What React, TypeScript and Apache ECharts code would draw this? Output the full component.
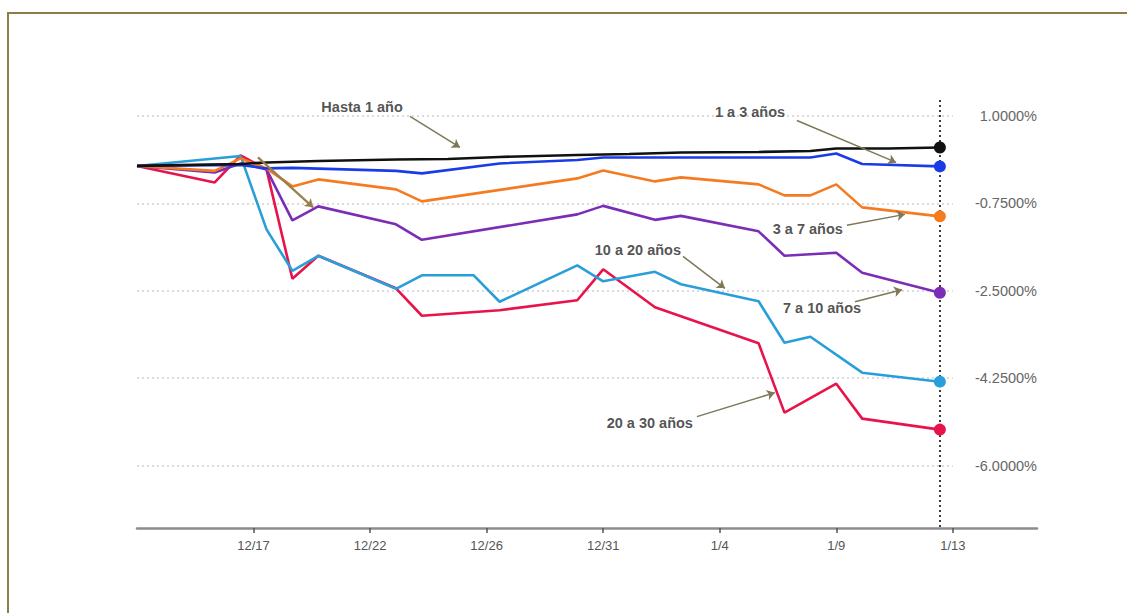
import React, { useEffect, useRef } from "react";
import * as echarts from "echarts";

const dates = [
  "12/13", "12/14", "12/15", "12/16", "12/17", "12/18", "12/19", "12/20", "12/21", "12/22",
  "12/23", "12/24", "12/25", "12/26", "12/27", "12/28", "12/29", "12/30", "12/31",
  "1/1", "1/2", "1/3", "1/4", "1/5", "1/6", "1/7", "1/8", "1/9", "1/10", "1/11", "1/12", "1/13",
];

const N = null;
const hasta1: (number | null)[] = [0, N, N, N, 0.04, 0.07, N, 0.1, N, N, 0.13, N, 0.14, N, 0.18, N, N, 0.22, N, 0.24, N, 0.27, N, N, 0.28, N, 0.3, 0.35, N, 0.35, N, 0.37];
const de1a3: (number | null)[] = [0, N, N, N, 0.02, -0.05, -0.04, N, N, N, -0.1, -0.15, N, N, 0.05, N, N, 0.12, 0.17, N, N, 0.17, N, N, N, N, 0.17, 0.25, 0.04, N, N, -0.01];
const de3a7: (number | null)[] = [0, N, N, -0.1, 0.15, -0.05, -0.41, -0.27, N, N, -0.47, -0.71, N, N, N, N, N, -0.25, -0.09, N, -0.31, -0.23, N, N, -0.37, -0.59, -0.59, -0.37, -0.83, N, N, -1.01];
const de7a10: (number | null)[] = [0, N, N, -0.13, 0.05, -0.07, -1.09, -0.81, N, N, -1.17, -1.48, N, N, N, N, N, -0.97, -0.8, N, -1.08, -1.0, N, N, -1.31, -1.8, N, -1.74, -2.14, N, N, -2.54];
const de10a20: (number | null)[] = [0, N, N, N, 0.2, -1.27, -2.1, -1.8, N, N, -2.46, -2.19, N, -2.19, -2.72, N, N, -1.99, -2.31, N, -2.12, -2.37, N, N, -2.71, -3.54, -3.42, N, -4.14, N, N, -4.32];
const de20a30: (number | null)[] = [0, N, N, -0.33, 0.21, -0.07, -2.26, -1.8, N, N, -2.45, -3.0, N, N, -2.89, N, N, -2.69, -2.07, N, -2.83, N, N, N, -3.55, -4.94, N, -4.36, -5.06, N, N, -5.28];

const seriesNames = ["20 a 30 años", "10 a 20 años", "7 a 10 años", "3 a 7 años", "1 a 3 años", "Hasta 1 año"];
const seriesValues = [de20a30, de10a20, de7a10, de3a7, de1a3, hasta1];
const seriesColors = ["#e8134a", "#2a9ed8", "#7b2db6", "#f47b20", "#1a3ce6", "#111111"];

const yTicks = [1, -0.75, -2.5, -4.25, -6];
const xTickDays = [4.5, 9, 13.5, 18, 22.5, 27, 31.5];

const annotationTexts = ["Hasta 1 año", "1 a 3 años", "3 a 7 años", "7 a 10 años", "10 a 20 años", "20 a 30 años"];
const annotationAt = [[8.69, 1.17], [23.67, 1.07], [25.9, -1.27], [26.45, -2.84], [19.34, -1.69], [19.8, -5.14]];
const arrowFrom = [[10.54, 0.99], [25.48, 0.91], [27.41, -1.19], [27.72, -2.72], [21.08, -1.81], [21.62, -5.02], [4.67, 0.17]];
const arrowTo = [[12.47, 0.37], [29.31, 0.07], [29.65, -0.97], [29.54, -2.48], [22.7, -2.45], [24.63, -4.54], [6.8, -0.83]];

export default function App() {
  const ref = useRef<HTMLDivElement>(null);
  useEffect(() => {
    document.body.style.margin = "0";
    const chart = echarts.init(ref.current!, null, { renderer: "svg" });
    const lastIdx = dates.length - 1;

    const lineSeries = seriesNames.map((name, k) => ({
      name,
      type: "line",
      z: 3,
      data: seriesValues[k].map((v, i) => [i, v]).filter((d) => d[1] !== null),
      connectNulls: true,
      symbol: "circle",
      showSymbol: true,
      symbolSize: (val: number[]) => (val[0] === lastIdx ? 12 : 0),
      lineStyle: { color: seriesColors[k], width: 2.6 },
      itemStyle: { color: seriesColors[k] },
      emphasis: { disabled: true },
    }));

    const option = {
      animation: false,
      backgroundColor: "#ffffff",
      grid: { left: 137, right: 90, top: 100, bottom: 85, containLabel: false },
      xAxis: {
        type: "value",
        min: 0,
        max: 34.75,
        splitLine: { show: false },
        axisLine: { show: true, onZero: false, lineStyle: { color: "#8c8c8c", width: 2.5 } },
        axisTick: { show: true, customValues: xTickDays, length: 5, lineStyle: { color: "#555", width: 1.5 } },
        axisLabel: {
          customValues: xTickDays,
          color: "#555",
          fontSize: 13,
          fontFamily: "Liberation Sans, Arial, sans-serif",
          margin: 11,
          formatter: (v: number) => dates[Math.floor(v + 1e-6)] ?? "",
        },
      },
      yAxis: {
        type: "value",
        position: "right",
        min: -7.25,
        max: 1.32,
        splitLine: { show: false },
        axisLine: { show: false },
        axisTick: { show: false, customValues: yTicks },
        axisLabel: {
          inside: true,
          customValues: yTicks,
          margin: 0,
          color: "#666",
          fontSize: 14.5,
          fontFamily: "Liberation Sans, Arial, sans-serif",
          formatter: (v: number) => v.toFixed(4) + "%",
        },
      },
      graphic: [
        {
          type: "rect",
          silent: true,
          z: -10,
          shape: { x: 8, y: 13, width: 1140, height: 640 },
          style: { fill: "none", stroke: "#8c7e46", lineWidth: 2 },
        },
      ],
      series: [
        {
          type: "line",
          name: "grid",
          z: 1,
          data: [],
          silent: true,
          markLine: {
            z: 1,
            silent: true,
            symbol: ["none", "none"],
            label: { show: false },
            animation: false,
            data: [
              ...yTicks.map((v) => [
                { coord: [0, v], lineStyle: { color: "#cfcfcf", type: [2, 3], width: 1.5 } },
                { coord: [31.5, v] },
              ]),
              [
                { coord: [lastIdx, 1.32], lineStyle: { color: "#3a3a3a", type: [2, 3], width: 2 } },
                { coord: [lastIdx, -7.25] },
              ],
            ],
          },
        },
        ...lineSeries,
        {
          type: "scatter",
          name: "annotations",
          z: 5,
          silent: true,
          symbolSize: 0,
          data: annotationAt.map((p, i) => [p[0], p[1], annotationTexts[i]]),
          label: {
            show: true,
            position: "inside",
            formatter: (p: any) => p.data[2],
            color: "#262626",
            fontSize: 14.5,
            fontWeight: "bold",
            fontFamily: "Liberation Sans, Arial, sans-serif",
          },
          markLine: {
            silent: true,
            symbol: ["none", "arrow"],
            symbolSize: 8,
            label: { show: false },
            animation: false,
            lineStyle: { color: "#7d7858", width: 1.5, type: "solid" },
            data: arrowFrom.map((f, i) => [
              { coord: f, lineStyle: i === arrowFrom.length - 1 ? { color: "#9a7f4e", width: 2.2, type: "solid" } : undefined },
              { coord: arrowTo[i] },
            ]),
          },
        },
      ],
    };
    chart.setOption(option as any);
    return () => chart.dispose();
  }, []);
  return <div ref={ref} style={{ width: 1127, height: 613, background: "#fff" }} />;
}
